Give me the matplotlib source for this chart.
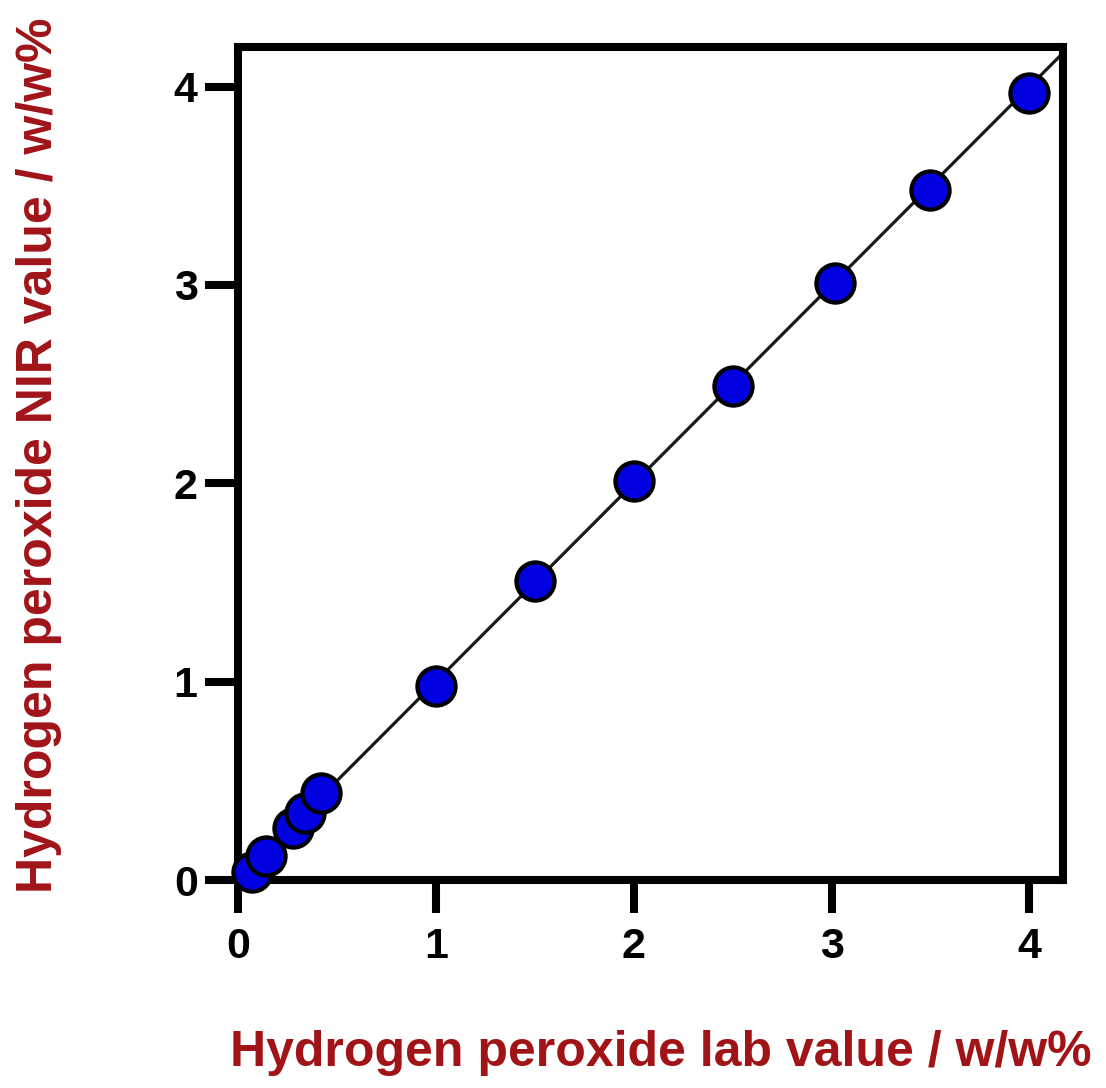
import matplotlib
matplotlib.use("Agg")
import matplotlib.pyplot as plt

lab_values = [0.07, 0.14, 0.28, 0.34, 0.42, 1.0, 1.5, 2.0, 2.5, 3.02, 3.5, 4.0]
nir_values = [0.04, 0.12, 0.26, 0.34, 0.44, 0.98, 1.51, 2.01, 2.49, 3.01, 3.48, 3.97]
ticks = [0, 1, 2, 3, 4]
fit_line = [0, 4.2]

xlabel = "Hydrogen peroxide lab value / w/w%"
ylabel = "Hydrogen peroxide NIR value / w/w%"
label_color = "#A01418"

plt.rcParams['font.family'] = ['Liberation Sans', 'DejaVu Sans']

fig = plt.figure(figsize=(11.06, 10.88), dpi=100)
ax = fig.add_axes([238/1106, 1-880/1088, (1063-238)/1106, (880-47)/1088])

ax.plot(fit_line, fit_line, color='#1a1a1a', lw=2.3, zorder=2)
ax.plot(lab_values, nir_values, 'o', ms=27.5, mfc='#0000E0', mec='black', mew=3, zorder=3,
        clip_on=False)

ax.set_xlim(0, 4.17)
ax.set_ylim(0, 4.2)
ax.set_xticks(ticks)
ax.set_yticks(ticks)
ax.set_xticklabels([str(t) for t in ticks], fontsize=31, fontweight='bold')
ax.set_yticklabels([str(t) for t in ticks], fontsize=31, fontweight='bold')
ax.tick_params(direction='out', length=24, width=5.8)
ax.tick_params(axis='x', pad=10)
ax.tick_params(axis='y', pad=5)
for s in ax.spines.values():
    s.set_linewidth(5.8)

ax.set_xlabel(xlabel, fontsize=36, fontweight='bold', color=label_color)
ax.set_ylabel(ylabel, fontsize=36, fontweight='bold', color=label_color)
ax.xaxis.set_label_coords((661-238)/(1063-238), -(1030-880)/(880-47))
ax.yaxis.set_label_coords(-(238-62)/(1063-238), (880-455)/(880-47))

fig.savefig("out.png", dpi=100)
